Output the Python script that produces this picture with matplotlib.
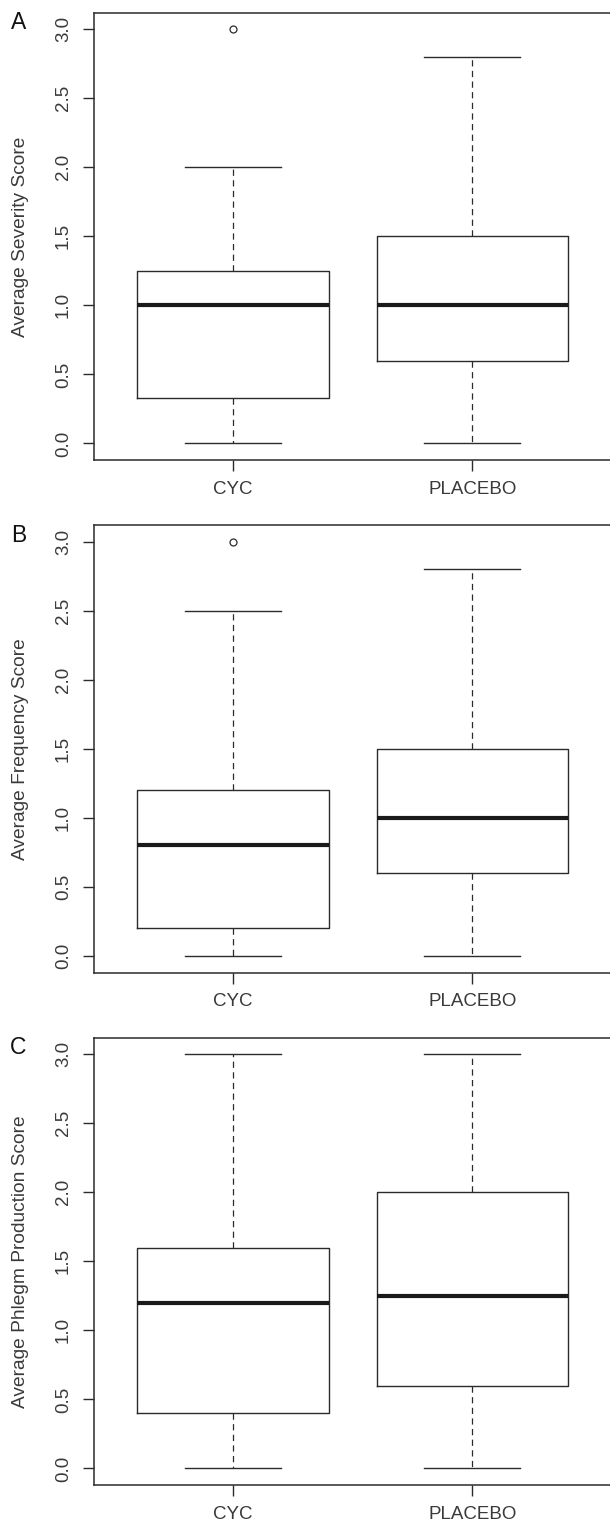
import matplotlib
matplotlib.use("Agg")
import matplotlib.pyplot as plt

plt.rcParams["font.family"] = ["Liberation Sans", "DejaVu Sans"]

GROUPS = ["CYC", "PLACEBO"]
PANELS = ["A", "B", "C"]
YLABELS = ["Average Severity Score",
           "Average Frequency Score",
           "Average Phlegm Production Score"]

# five-number summaries per panel: [CYC, PLACEBO]
WHISK_LO = [[0.0, 0.0], [0.0, 0.0], [0.0, 0.0]]
Q1       = [[0.33, 0.6], [0.2, 0.6], [0.4, 0.6]]
MEDIAN   = [[1.0, 1.0], [0.8, 1.0], [1.2, 1.25]]
Q3       = [[1.25, 1.5], [1.2, 1.5], [1.6, 2.0]]
WHISK_HI = [[2.0, 2.8], [2.5, 2.8], [3.0, 3.0]]
OUTLIERS = [[[3.0], []], [[3.0], []], [[], []]]

YTICKS = [0.0, 0.5, 1.0, 1.5, 2.0, 2.5, 3.0]

INK = "#2b2b2b"
TXT = "#3a3a3a"

W, H = 610, 1522
fig = plt.figure(figsize=(W / 100, H / 100), dpi=100)

ax_left = 94.3 / W
ax_w = (611 - 94.3) / W
ax_h = 447.3 / H
bottoms_px = [460, 972.5, 1485]

for p in range(3):
    ax = fig.add_axes([ax_left, 1 - bottoms_px[p] / H, ax_w, ax_h])
    stats = []
    for g in range(2):
        stats.append(dict(whislo=WHISK_LO[p][g], q1=Q1[p][g], med=MEDIAN[p][g],
                          q3=Q3[p][g], whishi=WHISK_HI[p][g],
                          fliers=OUTLIERS[p][g], label=GROUPS[g]))
    ax.bxp(stats, positions=[1, 2], widths=0.8, showfliers=True,
           boxprops=dict(color=INK, lw=1.0),
           medianprops=dict(color="#1a1a1a", lw=3.0, solid_capstyle="butt"),
           whiskerprops=dict(color=INK, lw=0.9, linestyle=(0, (5, 3.5))),
           capprops=dict(color=INK, lw=1.0),
           capwidths=0.4,
           flierprops=dict(marker="o", markersize=5, markerfacecolor="none",
                           markeredgecolor=INK, markeredgewidth=0.9))
    ax.set_xlim(0.42, 2.58)
    ax.set_ylim(-0.12, 3.12)
    ax.set_yticks(YTICKS)
    ax.set_yticklabels([f"{v:.1f}" for v in YTICKS], rotation=90, va="center")
    ax.set_xticks([1, 2])
    ax.set_xticklabels(GROUPS)
    ax.tick_params(axis="both", length=8, width=1.0, color=INK,
                   labelcolor=TXT, labelsize=13.5)
    ax.tick_params(axis="y", pad=8)
    ax.tick_params(axis="x", pad=7)
    for s in ax.spines.values():
        s.set_color(INK)
        s.set_linewidth(1.1)
    ax.set_ylabel(YLABELS[p], fontsize=13.8, color=TXT)
    ax.yaxis.set_label_coords(-0.126, 0.5)

    top_px = bottoms_px[p] - 447.3
    fig.text(18.5 / W, 1 - (top_px + 10) / H, PANELS[p], fontsize=16.5,
             color="#111111", ha="center", va="center")

fig.savefig("out.png", dpi=100, facecolor="white")
